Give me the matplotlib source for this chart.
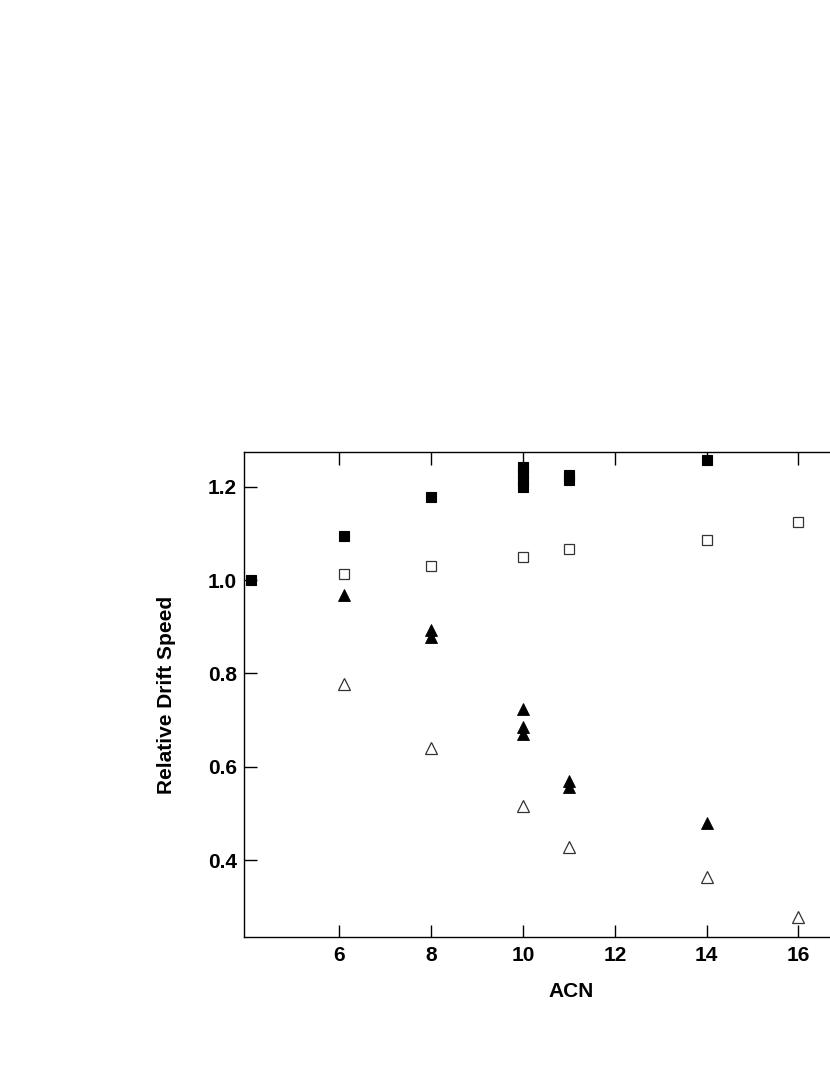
import matplotlib
matplotlib.use("Agg")
import matplotlib.pyplot as plt

plt.rcParams['font.family'] = ['Liberation Sans', 'DejaVu Sans']

# Filled squares
fsq_x = [4.08, 6.1, 8, 10, 10, 10, 10, 11, 11, 14]
fsq_y = [1.000, 1.095, 1.177, 1.200, 1.215, 1.230, 1.242, 1.214, 1.226, 1.257]
# Open squares
osq_x = [6.1, 8, 10, 11, 14, 16]
osq_y = [1.013, 1.030, 1.049, 1.067, 1.086, 1.124]
# Filled triangles
ftr_x = [6.1, 8, 8, 10, 10, 10, 11, 11, 14]
ftr_y = [0.968, 0.893, 0.878, 0.724, 0.684, 0.670, 0.569, 0.557, 0.480]
# Open triangles
otr_x = [6.1, 8, 10, 11, 14, 16]
otr_y = [0.777, 0.640, 0.516, 0.427, 0.364, 0.277]

xticks = [6, 8, 10, 12, 14, 16]
yticks = [0.4, 0.6, 0.8, 1.0, 1.2]

fig = plt.figure(figsize=(8.30, 10.75), dpi=100)
ax = fig.add_axes([244/830, (1075-936.7)/1075, 654/830, (936.7-452.3)/1075])

ax.plot(fsq_x, fsq_y, 's', ms=7.8, mfc='black', mec='black', mew=0.8, ls='none')
ax.plot(osq_x, osq_y, 's', ms=7.8, mfc='white', mec='#333333', mew=0.9, ls='none')
ax.plot(ftr_x, ftr_y, '^', ms=8, mfc='black', mec='black', mew=0.6, ls='none')
ax.plot(otr_x, otr_y, '^', ms=8, mfc='white', mec='#333333', mew=0.9, ls='none')

ax.set_xlim(3.92, 3.92 + 654/45.9)
ax.set_ylim(0.2357, 1.2737)
ax.set_xticks(xticks)
ax.set_yticks(yticks)
ax.set_xticklabels([f"{v}" for v in xticks], fontsize=15, fontweight='bold')
ax.set_yticklabels([f"{v:.1f}" for v in yticks], fontsize=15, fontweight='bold')
ax.tick_params(axis='x', direction='in', length=9, width=1, top=True, pad=7)
ax.tick_params(axis='y', direction='in', length=9, width=1, pad=5)
for s in ax.spines.values():
    s.set_linewidth(1.0)

ax.set_xlabel('ACN', fontsize=15, fontweight='bold', labelpad=12)
ax.set_ylabel('Relative Drift Speed', fontsize=15, fontweight='bold', labelpad=23)

fig.savefig('out.png', dpi=100)
